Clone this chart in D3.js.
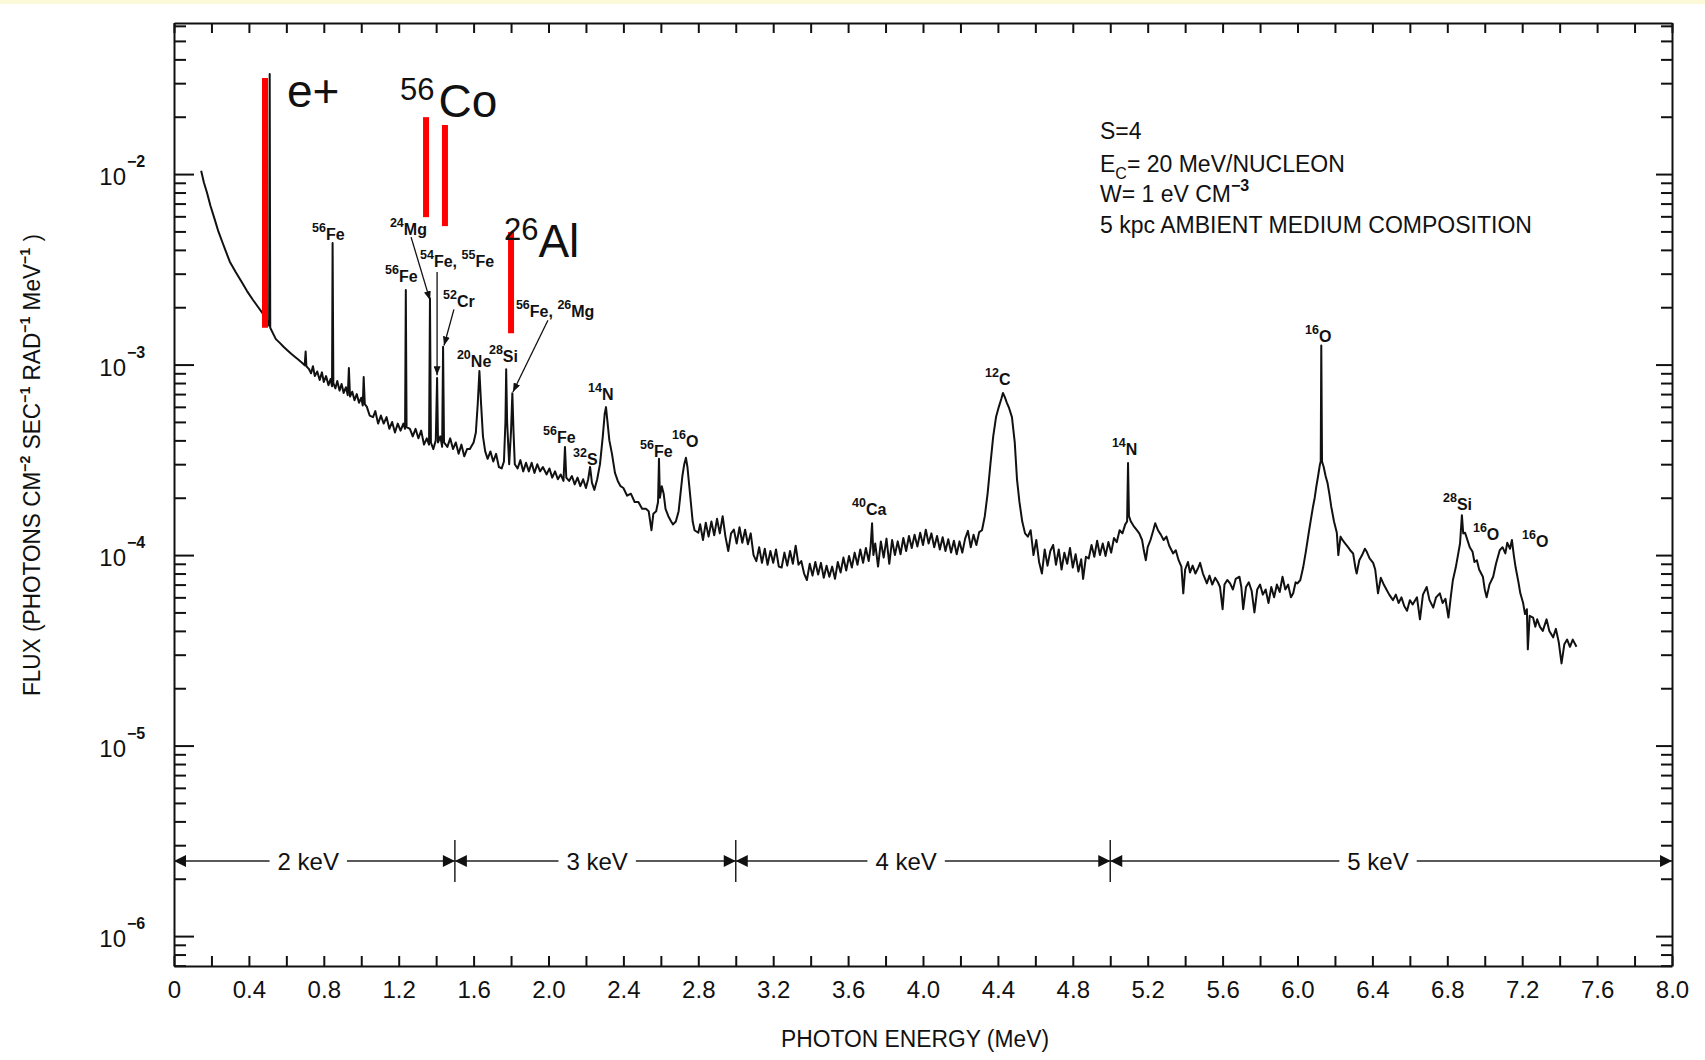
<!DOCTYPE html>
<html><head><meta charset="utf-8">
<script src="https://cdn.jsdelivr.net/npm/d3@7"></script>
<style>
html,body{margin:0;padding:0;background:#fff;}
svg text{font-family:"Liberation Sans", Arial, sans-serif; fill:#111;}
</style></head><body>
<svg id="chart" width="1705" height="1060"></svg>
<script>
// ---------------- DATA ----------------
// gamma-ray spectrum: [photon energy (MeV), flux]
const spectrum = [
[0.145,1.04e-2],[0.16,9.0e-3],[0.176,8.0e-3],[0.195,6.8e-3],[0.217,5.8e-3],[0.237,5.0e-3],[0.258,4.4e-3],[0.278,3.9e-3],[0.298,3.47e-3],[0.33,3.05e-3],[0.36,2.73e-3],[0.39,2.43e-3],[0.421,2.19e-3],[0.45,2.0e-3],[0.483,1.8e-3],[0.5,1.68e-3],[0.508,1.6e-3],[0.511,3.35e-2],[0.514,1.56e-3],[0.53,1.45e-3],[0.544,1.36e-3],
[0.565,1.3e-3],[0.585,1.24e-3],[0.605,1.19e-3],[0.626,1.14e-3],[0.645,1.1e-3],[0.665,1.06e-3],[0.685,1.02e-3],[0.698,9.9e-4],[0.703,1.17e-3],[0.707,9.8e-4],[0.72,9.5e-4],[0.732,9.0e-4],[0.742,9.8e-4],[0.752,8.7e-4],[0.765,9.2e-4],[0.778,8.3e-4],[0.79,9.1e-4],[0.80,8.1e-4],[0.812,8.7e-4],[0.825,7.8e-4],[0.836,8.4e-4],[0.844,7.7e-4],[0.847,4.35e-3],[0.851,8.0e-4],[0.862,7.5e-4],[0.872,8.2e-4],[0.884,7.3e-4],[0.895,7.9e-4],[0.906,7.1e-4],[0.918,7.6e-4],[0.928,6.9e-4],[0.934,9.6e-4],[0.94,6.8e-4],[0.952,7.2e-4],[0.964,6.5e-4],[0.976,7.0e-4],[0.988,6.3e-4],[1.0,6.7e-4],[1.008,6.1e-4],[1.013,8.6e-4],[1.019,6.2e-4],
[1.03,6.0e-4],[1.045,5.4e-4],[1.063,5.3e-4],[1.075,5.7e-4],[1.09,4.9e-4],[1.105,5.4e-4],[1.12,4.9e-4],[1.135,5.3e-4],[1.15,4.6e-4],[1.165,5.0e-4],[1.18,4.4e-4],[1.195,4.9e-4],[1.21,4.5e-4],[1.225,4.9e-4],[1.234,4.6e-4],[1.238,2.46e-3],[1.242,4.7e-4],[1.26,4.6e-4],[1.275,4.2e-4],[1.29,4.6e-4],[1.305,4.1e-4],[1.32,4.5e-4],[1.335,3.8e-4],[1.35,4.1e-4],[1.362,3.8e-4],[1.367,2.23e-3],[1.372,3.9e-4],[1.385,3.6e-4],[1.398,4.0e-4],[1.405,8.5e-4],[1.41,3.9e-4],[1.422,4.2e-4],[1.432,3.7e-4],[1.437,1.24e-3],[1.442,3.9e-4],[1.46,3.7e-4],[1.475,4.1e-4],[1.49,3.6e-4],[1.505,3.9e-4],[1.52,3.4e-4],[1.535,3.8e-4],[1.55,3.3e-4],[1.565,3.6e-4],[1.58,3.6e-4],[1.6,3.9e-4],[1.612,4.4e-4],[1.622,6.2e-4],[1.631,9.25e-4],[1.64,6.2e-4],[1.65,4.2e-4],[1.662,3.5e-4],[1.675,3.2e-4],[1.69,3.5e-4],[1.705,3.1e-4],[1.72,3.4e-4],[1.735,2.9e-4],[1.75,2.85e-4],[1.762,3.1e-4],[1.77,5.0e-4],[1.774,9.46e-4],[1.779,5.0e-4],[1.79,3.0e-4],[1.8,4.5e-4],[1.807,7.08e-4],[1.813,4.5e-4],[1.82,3.0e-4],
[1.835,2.85e-4],[1.85,3.15e-4],[1.865,2.75e-4],[1.88,3.05e-4],[1.895,2.75e-4],[1.91,3.05e-4],[1.925,2.7e-4],[1.94,3.0e-4],[1.955,2.75e-4],[1.97,2.9e-4],[1.99,2.65e-4],[2.005,2.85e-4],[2.02,2.55e-4],[2.035,2.75e-4],[2.05,2.5e-4],[2.065,2.65e-4],[2.08,2.45e-4],[2.088,3.69e-4],[2.095,2.55e-4],[2.11,2.45e-4],[2.125,2.6e-4],[2.14,2.35e-4],[2.155,2.55e-4],[2.17,2.3e-4],[2.185,2.5e-4],[2.2,2.25e-4],[2.212,2.5e-4],[2.222,2.9e-4],[2.232,2.4e-4],[2.245,2.2e-4],[2.26,2.5e-4],[2.275,3.0e-4],[2.29,4.2e-4],[2.3,5.5e-4],[2.307,5.98e-4],[2.315,5.0e-4],[2.325,4.0e-4],[2.339,3.4e-4],[2.355,2.7e-4],[2.37,2.45e-4],[2.385,2.3e-4],
[2.4,2.25e-4],[2.42,2.05e-4],[2.44,2.1e-4],[2.46,1.9e-4],[2.48,1.9e-4],[2.5,1.75e-4],[2.52,1.75e-4],[2.535,1.7e-4],[2.55,1.35e-4],[2.56,1.65e-4],[2.575,1.7e-4],[2.585,1.9e-4],[2.59,3.2e-4],[2.595,2.0e-4],[2.605,2.3e-4],[2.615,2.1e-4],[2.625,1.75e-4],[2.64,1.6e-4],[2.655,1.5e-4],[2.665,1.45e-4],[2.68,1.5e-4],[2.695,1.7e-4],[2.705,2.1e-4],[2.715,2.6e-4],[2.725,3.0e-4],[2.734,3.24e-4],[2.742,2.9e-4],[2.75,2.4e-4],[2.76,1.9e-4],[2.77,1.5e-4],[2.78,1.35e-4],[2.8,1.31e-4],
[2.81,1.45e-4],[2.825,1.2e-4],[2.84,1.48e-4],[2.855,1.25e-4],[2.87,1.5e-4],[2.885,1.27e-4],[2.9,1.55e-4],[2.915,1.3e-4],[2.93,1.6e-4],[2.945,1.25e-4],[2.96,1.05e-4],[2.975,1.3e-4],[2.99,1.36e-4],[3.005,1.15e-4],[3.02,1.4e-4],[3.035,1.16e-4],[3.05,1.36e-4],[3.065,1.14e-4],[3.08,1.3e-4],[3.095,1.0e-4],[3.11,9.3e-5],[3.125,1.1e-4],[3.14,9.1e-5],[3.155,1.08e-4],[3.17,8.9e-5],[3.185,1.05e-4],[3.2,9.1e-5],[3.215,1.07e-4],[3.23,8.7e-5],[3.245,8.6e-5],[3.26,1.03e-4],[3.275,8.8e-5],[3.29,1.05e-4],[3.305,9.0e-5],[3.32,1.12e-4],[3.335,8.9e-5],[3.35,9.3e-5],[3.365,8.0e-5],[3.38,7.4e-5],[3.395,9.0e-5],[3.41,7.8e-5],[3.425,9.2e-5],[3.44,7.9e-5],[3.455,9.1e-5],[3.47,7.6e-5],[3.485,8.8e-5],[3.5,7.7e-5],[3.515,8.7e-5],[3.53,7.5e-5],[3.545,9.2e-5],[3.56,8.1e-5],[3.575,9.7e-5],[3.59,8.3e-5],[3.605,9.9e-5],[3.62,8.6e-5],[3.635,1.03e-4],[3.65,8.9e-5],[3.665,1.07e-4],[3.68,9.1e-5],[3.695,1.09e-4],[3.71,9.3e-5],[3.72,1.1e-4],[3.728,1.47e-4],[3.735,1.0e-4],[3.745,1.15e-4],[3.76,8.7e-5],[3.775,1.18e-4],[3.79,9.7e-5],[3.805,1.22e-4],[3.82,9.0e-5],[3.835,1.2e-4],[3.85,1.0e-4],[3.865,1.18e-4],[3.88,1.01e-4],[3.895,1.23e-4],[3.91,1.05e-4],[3.925,1.26e-4],[3.94,1.09e-4],[3.955,1.28e-4],[3.97,1.11e-4],[3.985,1.31e-4],[4.0,1.13e-4],[4.015,1.36e-4],[4.03,1.15e-4],[4.045,1.3e-4],[4.06,1.1e-4],[4.075,1.26e-4],[4.09,1.07e-4],[4.105,1.24e-4],[4.12,1.05e-4],[4.135,1.21e-4],[4.15,1.03e-4],[4.165,1.19e-4],[4.18,1.01e-4],[4.195,1.18e-4],[4.21,1.03e-4],[4.225,1.22e-4],[4.24,1.34e-4],[4.255,1.1e-4],[4.27,1.28e-4],[4.285,1.13e-4],[4.3,1.32e-4],
[4.315,1.35e-4],[4.33,1.6e-4],[4.345,2.1e-4],[4.36,3.0e-4],[4.375,4.2e-4],[4.39,5.3e-4],[4.405,6.0e-4],[4.418,6.6e-4],[4.427,7.1e-4],[4.438,6.7e-4],[4.448,6.3e-4],[4.46,5.9e-4],[4.475,5.3e-4],[4.49,3.9e-4],[4.502,2.5e-4],[4.515,1.9e-4],[4.53,1.5e-4],[4.545,1.3e-4],
[4.56,1.25e-4],[4.575,1.35e-4],[4.59,1.0e-4],[4.605,1.2e-4],[4.62,9.2e-5],[4.635,8.0e-5],[4.65,1.07e-4],[4.665,8.8e-5],[4.68,1.05e-4],[4.695,1.13e-4],[4.71,8.9e-5],[4.725,1.07e-4],[4.74,8.4e-5],[4.755,1.03e-4],[4.77,9.0e-5],[4.785,1.09e-4],[4.8,8.6e-5],[4.815,1.01e-4],[4.83,8.2e-5],[4.845,9.5e-5],[4.855,7.5e-5],[4.87,9.8e-5],[4.885,9.6e-5],[4.9,1.13e-4],[4.915,9.8e-5],[4.93,1.19e-4],[4.945,1.0e-4],[4.96,1.15e-4],[4.975,9.9e-5],[4.99,1.17e-4],[5.005,1.03e-4],[5.02,1.23e-4],[5.035,1.17e-4],[5.05,1.35e-4],[5.065,1.3e-4],[5.08,1.45e-4],[5.09,1.5e-4],[5.095,3.04e-4],[5.1,1.6e-4],[5.11,1.5e-4],[5.125,1.42e-4],[5.14,1.36e-4],[5.155,1.3e-4],[5.17,1.2e-4],[5.18,1.05e-4],[5.19,9.4e-5],[5.2,1.1e-4],[5.215,1.2e-4],[5.23,1.35e-4],[5.24,1.47e-4],[5.255,1.35e-4],[5.27,1.28e-4],[5.285,1.2e-4],[5.3,1.25e-4],
[5.315,1.12e-4],[5.336,1.02e-4],[5.35,1.06e-4],[5.365,9.4e-5],[5.38,8.7e-5],[5.39,6.3e-5],[5.4,8.4e-5],[5.415,9.2e-5],[5.426,8.1e-5],[5.44,8.8e-5],[5.455,8.0e-5],[5.47,8.6e-5],[5.48,9.1e-5],[5.495,8.0e-5],[5.516,7.1e-5],[5.53,7.8e-5],[5.545,7.0e-5],[5.56,7.6e-5],[5.575,7.2e-5],[5.586,6.8e-5],[5.6,5.2e-5],[5.61,7.0e-5],[5.625,7.4e-5],[5.64,7.1e-5],[5.655,6.6e-5],[5.67,7.5e-5],[5.69,7.7e-5],[5.7,6.8e-5],[5.71,5.2e-5],[5.725,6.8e-5],[5.74,7.2e-5],[5.755,6.5e-5],[5.77,5.0e-5],[5.785,6.6e-5],[5.8,7.0e-5],[5.815,6.2e-5],[5.83,6.6e-5],[5.845,5.6e-5],[5.86,6.8e-5],[5.875,6.0e-5],[5.89,7.0e-5],[5.905,6.4e-5],[5.92,7.7e-5],[5.935,6.6e-5],[5.95,7.0e-5],[5.965,6.0e-5],[5.977,6.3e-5],[5.99,7.2e-5],[6.0,7.1e-5],[6.015,7.4e-5],[6.03,8.6e-5],
[6.045,1.05e-4],[6.06,1.31e-4],[6.072,1.55e-4],[6.083,1.8e-4],[6.092,2.0e-4],[6.1,2.27e-4],[6.11,2.6e-4],[6.12,3.0e-4],[6.124,3.1e-4],[6.127,1.26e-3],[6.131,3.1e-4],[6.14,2.9e-4],[6.15,2.6e-4],[6.16,2.4e-4],[6.17,2.1e-4],[6.18,1.8e-4],[6.195,1.5e-4],[6.21,1.31e-4],[6.218,1.0e-4],[6.23,1.25e-4],
[6.24,1.2e-4],[6.255,1.15e-4],[6.27,1.1e-4],[6.285,1.05e-4],[6.297,1.02e-4],[6.31,8.5e-5],[6.316,8.0e-5],[6.33,9.4e-5],[6.345,1.0e-4],[6.36,1.08e-4],[6.37,1.04e-4],[6.385,9.6e-5],[6.404,9.1e-5],[6.415,8.4e-5],[6.43,6.3e-5],[6.445,7.6e-5],[6.458,7.1e-5],[6.475,6.6e-5],[6.49,6.2e-5],[6.51,5.8e-5],[6.525,6.2e-5],[6.54,5.6e-5],[6.555,6.0e-5],[6.57,5.4e-5],[6.585,5.1e-5],[6.6,5.8e-5],[6.615,5.5e-5],[6.638,6.0e-5],[6.654,4.6e-5],[6.67,6.2e-5],[6.69,6.8e-5],[6.705,5.8e-5],[6.725,5.3e-5],[6.74,6.0e-5],[6.76,6.3e-5],[6.775,5.6e-5],[6.79,5.9e-5],[6.806,4.7e-5],[6.82,6.2e-5],[6.83,7.4e-5],[6.845,8.6e-5],[6.857,1.0e-4],[6.868,1.15e-4],[6.878,1.62e-4],[6.885,1.3e-4],[6.895,1.31e-4],[6.905,1.22e-4],[6.92,1.1e-4],[6.935,1.04e-4],[6.945,9.2e-5],[6.958,9.4e-5],[6.97,8.4e-5],[6.99,7.7e-5],[7.0,6.6e-5],[7.01,6.0e-5],[7.025,7.0e-5],[7.045,7.7e-5],[7.06,9.0e-5],[7.08,1.06e-4],[7.095,1.1e-4],[7.11,1.02e-4],[7.12,1.16e-4],[7.135,1.08e-4],[7.145,1.2e-4],[7.155,1.0e-4],[7.165,8.6e-5],[7.18,7.2e-5],[7.19,6.3e-5],[7.205,5.6e-5],[7.215,4.9e-5],[7.225,5.2e-5],[7.23,3.2e-5],[7.24,4.8e-5],[7.258,4.7e-5],[7.27,4.2e-5],[7.28,4.6e-5],[7.295,4.2e-5],[7.31,4.0e-5],[7.33,4.6e-5],[7.345,4.0e-5],[7.365,3.7e-5],[7.38,4.1e-5],[7.395,3.5e-5],[7.41,2.7e-5],[7.425,3.4e-5],[7.44,3.6e-5],[7.455,3.3e-5],[7.47,3.6e-5],[7.49,3.3e-5]
];

// x tick labels (every 0.4 MeV) and y decade exponents
const xTickLabels = ["0","0.4","0.8","1.2","1.6","2.0","2.4","2.8","3.2","3.6","4.0","4.4","4.8","5.2","5.6","6.0","6.4","6.8","7.2","7.6","8.0"];
const yDecadeExponents = [-2,-3,-4,-5,-6];

// nuclear line labels: [mass, symbol] parts, anchor energy (MeV) and flux
const lineLabels = [
  {parts:[["56","Fe"]], E:0.737, F:4.51e-3},
  {parts:[["24","Mg"]], E:1.153, F:4.79e-3},
  {parts:[["56","Fe"]], E:1.127, F:2.71e-3},
  {parts:[["54","Fe, "],["55","Fe"]], E:1.314, F:3.25e-3},
  {parts:[["52","Cr"]], E:1.437, F:2.0e-3},
  {parts:[["20","Ne"]], E:1.511, F:9.7e-4},
  {parts:[["28","Si"]], E:1.682, F:1.03e-3},
  {parts:[["56","Fe, "],["26","Mg"]], E:1.826, F:1.77e-3},
  {parts:[["14","N"]], E:2.211, F:6.52e-4},
  {parts:[["56","Fe"]], E:1.971, F:3.87e-4},
  {parts:[["32","S"]], E:2.131, F:2.97e-4},
  {parts:[["56","Fe"]], E:2.489, F:3.27e-4},
  {parts:[["16","O"]], E:2.66, F:3.69e-4},
  {parts:[["40","Ca"]], E:3.621, F:1.62e-4},
  {parts:[["12","C"]], E:4.331, F:7.8e-4},
  {parts:[["14","N"]], E:5.009, F:3.35e-4},
  {parts:[["16","O"]], E:6.04, F:1.31e-3},
  {parts:[["28","Si"]], E:6.777, F:1.72e-4},
  {parts:[["16","O"]], E:6.937, F:1.2e-4},
  {parts:[["16","O"]], E:7.199, F:1.1e-4}
];
// leader arrows from labels to lines: [E0,F0] -> [E1,F1]
const labelArrows = [
  [[1.266,4.67e-3],[1.367,2.18e-3]],
  [[1.405,3.06e-3],[1.405,8.8e-4]],
  [[1.495,1.95e-3],[1.442,1.26e-3]],
  [[1.997,1.71e-3],[1.81,7.18e-4]]
];
// red highlight bars: energy, flux range
const redBars = [
  {E:0.486, F0:1.56e-3, F1:3.19e-2},
  {E:1.346, F0:5.94e-3, F1:1.99e-2},
  {E:1.447, F0:5.33e-3, F1:1.81e-2},
  {E:1.80,  F0:1.46e-3, F1:4.97e-3}
];
// big overlay labels
const bigLabels = [
  {sup:"",   main:"e+", E:0.603, F:2.25e-2},
  {sup:"56", main:"Co", E:1.207, F:1.99e-2},
  {sup:"26", main:"Al", E:1.762, F:3.66e-3}
];
// resolution bands
const kevBounds = [0, 1.5, 3.0, 5.0, 8.0];
const kevLabels = ["2 keV","3 keV","4 keV","5 keV"];
const kevLabelE = [0.717, 2.26, 3.91, 6.43];
const kevFlux = 2.48e-6;
// parameter text
const paramLines = ["S=4", "E|C|= 20 MeV/NUCLEON", "W= 1 eV  CM|-3", "5 kpc AMBIENT MEDIUM COMPOSITION"];

// ---------------- DRAW ----------------
const svg = d3.select("#chart");
const L = 174, R = 1672, T = 23, B = 966;
const x = d3.scaleLinear().domain([0, 8]).range([L, R]);
const y = d3.scaleLog().domain([Math.pow(10,-6.157), Math.pow(10,-1.207)]).range([B, T]);

svg.append("rect").attr("x",0).attr("y",0).attr("width",1705).attr("height",4).attr("fill","#fcf9d9");

// tick positions
const xMinor = d3.range(0, 41).map(i => +(i*0.2).toFixed(1));
const xMajor = d3.range(0, 21).map(i => +(i*0.4).toFixed(1));
const yAll = [];
for (let e = -7; e <= -1; e++) for (let m = 1; m <= 9; m++) {
  const v = m*Math.pow(10,e);
  if (v >= y.domain()[0] && v <= y.domain()[1]) yAll.push(v);
}
const isDecade = v => Math.abs(Math.log10(v) - Math.round(Math.log10(v))) < 1e-6;

function styleAxis(g){
  g.select(".domain").attr("stroke","#111").attr("stroke-width",2);
  g.selectAll(".tick line").attr("stroke","#111").attr("stroke-width",2);
}
// bottom
const gB = svg.append("g").attr("transform",`translate(0,${B})`)
  .call(d3.axisBottom(x).tickValues(xMinor).tickSize(-10).tickSizeOuter(0)
    .tickFormat(d => { const i = xMajor.indexOf(d); return i >= 0 ? xTickLabels[i] : ""; }));
styleAxis(gB);
gB.selectAll(".tick text").attr("y",32).attr("dy",0).attr("font-size",24)
  .attr("font-family",'"Liberation Sans", Arial, sans-serif').attr("fill","#111");
// top
const gT = svg.append("g").attr("transform",`translate(0,${T})`)
  .call(d3.axisTop(x).tickValues(xMinor).tickSize(-10).tickSizeOuter(0).tickFormat(""));
styleAxis(gT);
// left
const gLft = svg.append("g").attr("transform",`translate(${L},0)`)
  .call(d3.axisLeft(y).tickValues(yAll).tickSize(-12).tickSizeOuter(0).tickFormat(""));
styleAxis(gLft);
gLft.selectAll(".tick line").attr("x2", d => isDecade(d) ? 20 : 12);
// right
const gR = svg.append("g").attr("transform",`translate(${R},0)`)
  .call(d3.axisRight(y).tickValues(yAll).tickSize(-11).tickSizeOuter(0).tickFormat(""));
styleAxis(gR);
gR.selectAll(".tick line").attr("x2", d => isDecade(d) ? -16 : -11);

// y decade labels
yDecadeExponents.forEach(e => {
  const yy = y(Math.pow(10,e));
  svg.append("text").attr("x",126).attr("y",yy+11).attr("text-anchor","end")
    .attr("font-size",24).text("10");
  svg.append("text").attr("x",127).attr("y",yy-7).attr("font-size",16).attr("font-weight","bold").text(String(e).replace("-","\u2212"));
});

// axis titles
svg.append("text").attr("x",(L+R)/2 - 8).attr("y",1047).attr("text-anchor","middle")
  .attr("font-size",23).attr("textLength",268).attr("lengthAdjust","spacingAndGlyphs")
  .text("PHOTON ENERGY (MeV)");
const yt = svg.append("text").attr("transform","translate(40,465) rotate(-90)")
  .attr("text-anchor","middle").attr("font-size",24);
const ytParts = [["FLUX  (PHOTONS  CM",""],["","-2"],["  SEC",""],["","-1"],["  RAD",""],["","-1"],["  MeV",""],["","-1"],["  )",""]];
let supOn = false;
ytParts.forEach(([n,s]) => {
  if (n) { yt.append("tspan").attr("dy", supOn ? 10 : 0).attr("font-size",24).text(n); supOn = false; }
  if (s) { yt.append("tspan").attr("dy", -10).attr("font-size",15).attr("font-weight","bold").text(s.replace("-","\u2212")); supOn = true; }
});
yt.attr("textLength",462).attr("lengthAdjust","spacingAndGlyphs");

// parameter text
const pBase = [139, 172, 202, 233];
paramLines.forEach((ln, i) => {
  const t = svg.append("text").attr("x",1100).attr("y",pBase[i]).attr("font-size",23);
  const segs = ln.split("|");
  if (segs.length === 1) {
    t.text(ln);
    if (i === 3) t.attr("textLength",432).attr("lengthAdjust","spacingAndGlyphs");
  } else if (i === 1) {
    t.append("tspan").text(segs[0]);
    t.append("tspan").attr("dy",7).attr("font-size",16).text(segs[1]);
    t.append("tspan").attr("dy",-7).text(segs[2]);
  } else {
    t.append("tspan").text(segs[0]);
    t.append("tspan").attr("dy",-11).attr("font-size",16).attr("font-weight","bold").text(segs[1].replace("-","\u2212"));
  }
});

// keV resolution row
const yk = y(kevFlux);
const kg = svg.append("g");
for (let i = 0; i < kevLabels.length; i++) {
  const xa = x(kevBounds[i]), xb = x(kevBounds[i+1]);
  kg.append("line").attr("x1",xa).attr("x2",xb).attr("y1",yk).attr("y2",yk).attr("stroke","#222").attr("stroke-width",1.6);
  kg.append("path").attr("d",`M${xa},${yk}L${xa+12},${yk-6}L${xa+12},${yk+6}Z`).attr("fill","#111");
  kg.append("path").attr("d",`M${xb},${yk}L${xb-12},${yk-6}L${xb-12},${yk+6}Z`).attr("fill","#111");
  const tx = kg.append("text").attr("x",x(kevLabelE[i])).attr("y",yk+9).attr("text-anchor","middle")
    .attr("font-size",24).text(kevLabels[i]);
  const bb = tx.node().getBBox();
  kg.insert("rect","text:last-of-type").attr("x",bb.x-8).attr("y",yk-4).attr("width",bb.width+16).attr("height",8).attr("fill","#fff");
}
kevBounds.slice(1,-1).forEach(b => {
  kg.append("line").attr("x1",x(b)).attr("x2",x(b)).attr("y1",yk-21).attr("y2",yk+21).attr("stroke","#222").attr("stroke-width",1.5);
});

// spectrum
const line = d3.line().x(d => x(d[0])).y(d => y(d[1]));
svg.append("path").datum(spectrum).attr("d",line).attr("fill","none")
  .attr("stroke","#111").attr("stroke-width",2).attr("stroke-linejoin","round");

// leader arrows
svg.append("defs").append("marker").attr("id","ah").attr("markerUnits","userSpaceOnUse")
  .attr("markerWidth",9).attr("markerHeight",7).attr("refX",9).attr("refY",3.5).attr("orient","auto")
  .append("path").attr("d","M0,0L9,3.5L0,7Z").attr("fill","#111");
labelArrows.forEach(a => {
  svg.append("line").attr("x1",x(a[0][0])).attr("y1",y(a[0][1])).attr("x2",x(a[1][0])).attr("y2",y(a[1][1]))
    .attr("stroke","#111").attr("stroke-width",1.3).attr("marker-end","url(#ah)");
});

// line labels
lineLabels.forEach(l => {
  const t = svg.append("text").attr("x",x(l.E)).attr("y",y(l.F)).attr("font-weight","bold");
  l.parts.forEach(([m,s]) => {
    t.append("tspan").attr("dy", -8).attr("font-size",12.5).text(m);
    t.append("tspan").attr("dy", 8).attr("font-size",16).text(s);
  });
});

// red bars
redBars.forEach(b => {
  svg.append("line").attr("x1",x(b.E)).attr("x2",x(b.E)).attr("y1",y(b.F0)).attr("y2",y(b.F1))
    .attr("stroke","#ff0000").attr("stroke-width",6);
});
// big labels
const bigGap = {"Co":4, "Al":0};
bigLabels.forEach(b => {
  const t = svg.append("text").attr("x",x(b.E)).attr("y",y(b.F)).attr("fill","#000");
  if (b.sup) {
    t.append("tspan").attr("dy",-17).attr("font-size",31).text(b.sup);
    t.append("tspan").attr("dy",17).attr("dx",bigGap[b.main] || 0).attr("font-size",46).text(b.main);
  } else {
    t.append("tspan").attr("font-size",46).text(b.main);
  }
});
</script>
</body></html>
